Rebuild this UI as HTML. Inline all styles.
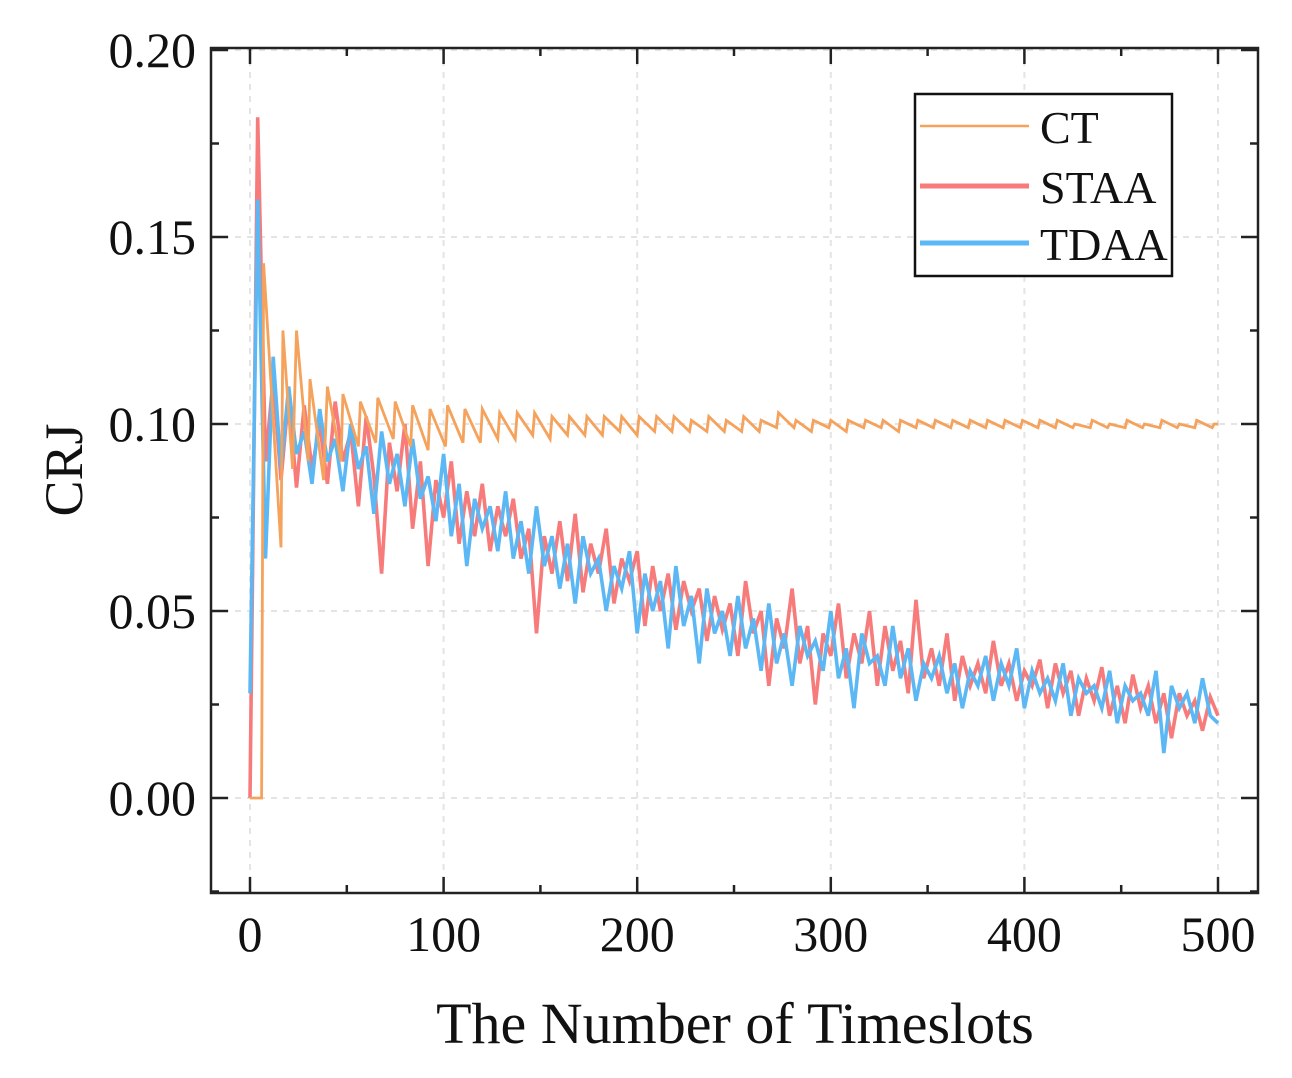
<!DOCTYPE html>
<html><head><meta charset="utf-8"><style>
html,body{margin:0;padding:0;background:#fff;}
svg{display:block;font-family:"Liberation Serif",serif;}
</style></head><body>
<svg id="chart" width="1292" height="1078" viewBox="0 0 1292 1078">
<g id="grid"></g>
<g id="series"></g>
<rect x="211" y="48" width="1047" height="845" fill="none" stroke="#222" stroke-width="2.5"/>
<g id="ticks"></g>
<g id="labels"></g>
<text x="735" y="1043" font-size="58" text-anchor="middle" fill="#111">The Number of Timeslots</text>
<text x="0" y="0" font-size="54" text-anchor="middle" fill="#111" transform="translate(82,470) rotate(-90)">CRJ</text>
<g>
<rect x="915" y="94" width="257" height="182" fill="#fff" stroke="#111" stroke-width="2.5"/>
<line x1="920" y1="126" x2="1029" y2="126" stroke="#F5A25C" stroke-width="2.5"/>
<text x="1040" y="143" font-size="46" fill="#111">CT</text>
<line x1="920" y1="186" x2="1029" y2="186" stroke="#F77B7B" stroke-width="5"/>
<text x="1040" y="203" font-size="46" fill="#111">STAA</text>
<line x1="920" y1="243" x2="1029" y2="243" stroke="#5BB8F5" stroke-width="5"/>
<text x="1040" y="260" font-size="46" fill="#111">TDAA</text>
</g>
</svg>
<script>
const xTicks=[0,100,200,300,400,500];
const xMinor=[50,150,250,350,450];
const yTicks=[0,0.05,0.10,0.15,0.20];
const yTickLabels=["0.00","0.05","0.10","0.15","0.20"];
const yMinor=[-0.025,0.025,0.075,0.125,0.175];
const ctT=[0,6,7,16,17,22,24,30,31,38,40,47,48,56,57,65,66,74,75,83,84,92,93,101,102,110,111,119,120,128,129,137,138,146,147,155,156,164,165,173,174,182,183,191,192,200,201,209,210,218,219,227,228,236,237,245,246,254,255,263,264,272,273,281,282,290,291,299,300,308,309,317,318,326,327,335,336,344,345,353,354,362,363,371,372,380,381,389,390,398,399,407,408,416,417,425,426,434,435,443,444,452,453,461,462,470,471,479,480,488,489,497,498,500];
const ctV=[0,0,0.143,0.067,0.125,0.088,0.125,0.090,0.112,0.085,0.110,0.090,0.108,0.094,0.106,0.095,0.107,0.096,0.106,0.094,0.105,0.093,0.104,0.094,0.105,0.095,0.104,0.095,0.104,0.096,0.103,0.096,0.103,0.097,0.103,0.096,0.102,0.097,0.102,0.097,0.102,0.097,0.102,0.098,0.102,0.097,0.102,0.098,0.102,0.098,0.102,0.098,0.101,0.098,0.102,0.098,0.101,0.098,0.102,0.098,0.101,0.099,0.103,0.099,0.101,0.098,0.101,0.099,0.101,0.098,0.101,0.099,0.101,0.099,0.101,0.098,0.101,0.099,0.101,0.099,0.101,0.099,0.101,0.099,0.101,0.099,0.101,0.099,0.101,0.099,0.101,0.099,0.101,0.099,0.101,0.099,0.100,0.099,0.101,0.099,0.100,0.099,0.101,0.099,0.100,0.099,0.101,0.099,0.100,0.099,0.101,0.099,0.100,0.100];
const staaV=[0,0.182,0.090,0.112,0.085,0.108,0.083,0.105,0.088,0.100,0.084,0.106,0.090,0.098,0.078,0.102,0.086,0.060,0.095,0.082,0.100,0.072,0.090,0.062,0.085,0.075,0.090,0.068,0.082,0.070,0.084,0.066,0.078,0.070,0.080,0.064,0.072,0.044,0.070,0.060,0.074,0.058,0.076,0.055,0.068,0.060,0.072,0.052,0.064,0.058,0.066,0.046,0.062,0.050,0.060,0.045,0.058,0.050,0.056,0.042,0.054,0.045,0.052,0.038,0.058,0.044,0.050,0.030,0.048,0.040,0.056,0.036,0.046,0.025,0.044,0.038,0.052,0.032,0.044,0.036,0.050,0.030,0.046,0.034,0.042,0.028,0.053,0.032,0.040,0.030,0.044,0.026,0.038,0.030,0.036,0.028,0.042,0.030,0.036,0.026,0.034,0.030,0.037,0.024,0.036,0.028,0.034,0.022,0.032,0.026,0.035,0.022,0.030,0.020,0.033,0.024,0.030,0.020,0.028,0.016,0.028,0.022,0.026,0.018,0.027,0.022];
const tdaaV=[0.028,0.160,0.064,0.118,0.088,0.110,0.092,0.098,0.084,0.104,0.090,0.096,0.082,0.100,0.088,0.094,0.076,0.098,0.084,0.092,0.078,0.096,0.080,0.086,0.074,0.092,0.070,0.084,0.062,0.080,0.072,0.078,0.066,0.082,0.064,0.074,0.060,0.078,0.062,0.070,0.056,0.068,0.052,0.070,0.060,0.064,0.050,0.062,0.056,0.066,0.044,0.060,0.050,0.058,0.040,0.062,0.046,0.054,0.036,0.056,0.044,0.050,0.038,0.054,0.040,0.048,0.034,0.052,0.036,0.044,0.030,0.046,0.038,0.042,0.034,0.050,0.032,0.040,0.024,0.044,0.036,0.038,0.030,0.046,0.032,0.040,0.026,0.036,0.032,0.038,0.028,0.036,0.024,0.034,0.030,0.038,0.026,0.036,0.030,0.040,0.024,0.034,0.028,0.032,0.026,0.036,0.022,0.032,0.028,0.030,0.024,0.034,0.020,0.030,0.026,0.028,0.022,0.034,0.012,0.030,0.024,0.028,0.020,0.032,0.022,0.020];
const NS="http://www.w3.org/2000/svg";
const X=t=>250+t*(1218-250)/500;
const Y=v=>798-v*(798-50)/0.2;
function mk(tag,attrs,parent){const e=document.createElementNS(NS,tag);for(const k in attrs)e.setAttribute(k,attrs[k]);parent.appendChild(e);return e;}
const grid=document.getElementById('grid'),ticks=document.getElementById('ticks'),labels=document.getElementById('labels'),series=document.getElementById('series');
xTicks.forEach(t=>{
 const g=mk('line',{x1:X(t),x2:X(t),y1:48,y2:893,stroke:'#e4e4e4','stroke-width':2,'stroke-dasharray':'6 6'},grid);
 
 
 [[893,877],[48,64]].forEach(([a,b])=>{const l=mk('line',{x1:X(t),x2:X(t),y1:a,y2:b,stroke:'#222','stroke-width':2.5},ticks);
 
 });
 const tx=mk('text',{x:X(t),y:951,'font-size':50,'text-anchor':'middle',fill:'#111'},labels);tx.textContent=t;
 
 
});
xMinor.forEach(t=>{[[893,885],[48,56]].forEach(([a,b])=>{const l=mk('line',{x1:X(t),x2:X(t),y1:a,y2:b,stroke:'#222','stroke-width':2.5},ticks);
 
 });});
yTicks.forEach((v,i)=>{
 const g=mk('line',{x1:211,x2:1258,y1:Y(v),y2:Y(v),stroke:'#e4e4e4','stroke-width':2,'stroke-dasharray':'6 6'},grid);
 
 
 [[211,228],[1258,1241]].forEach(([a,b])=>{const l=mk('line',{x1:a,x2:b,y1:Y(v),y2:Y(v),stroke:'#222','stroke-width':2.5},ticks);
 
 });
 const tx=mk('text',{x:196,y:Y(v)+17,'font-size':50,'text-anchor':'end',fill:'#111'},labels);tx.textContent=yTickLabels[i];
 
 
});
yMinor.forEach(v=>{[[211,219],[1258,1250]].forEach(([a,b])=>{const l=mk('line',{x1:a,x2:b,y1:Y(v),y2:Y(v),stroke:'#222','stroke-width':2.5},ticks);
 
 });});
function path(ts,vs,color,name,w){
 const d=vs.map((v,i)=>(i?'L':'M')+X(ts[i]).toFixed(1)+' '+Y(v).toFixed(1)).join(' ');
 const p=mk('path',{d:d,fill:'none',stroke:color,'stroke-width':w,'stroke-linejoin':'miter'},series);
 
 
}
path(staaV.map((_,i)=>Math.min(i*4,500)),staaV,'#F77B7B','staa-line',3.6);
path(tdaaV.map((_,i)=>Math.min(i*4,500)),tdaaV,'#5BB8F5','tdaa-line',3.6);
path(ctT,ctV,'#F5A25C','ct-line',2.8);
</script>
</body></html>
